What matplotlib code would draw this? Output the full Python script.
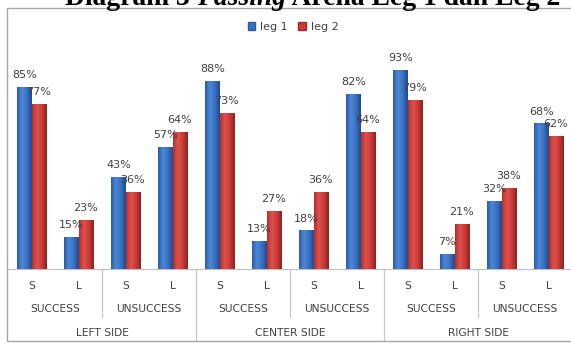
import numpy as np
import matplotlib
matplotlib.use("Agg")
import matplotlib.pyplot as plt
from matplotlib.patches import Patch, Rectangle
from matplotlib.colors import LinearSegmentedColormap
from matplotlib.transforms import blended_transform_factory

# data
level1 = ["S", "L"] * 6
level2 = ["SUCCESS", "UNSUCCESS"] * 3
level3 = ["LEFT SIDE", "CENTER SIDE", "RIGHT SIDE"]
leg1 = [85, 15, 43, 57, 88, 13, 18, 82, 93, 7, 32, 68]
leg2 = [77, 23, 36, 64, 73, 27, 36, 64, 79, 21, 38, 62]
series_names = ["leg 1", "leg 2"]
title_parts = [("Diagram 3 ", "normal"), ("Passing", "italic"), (" Arena Leg 1 dan Leg 2", "normal")]

W, H = 571, 351
fig = plt.figure(figsize=(W / 100, H / 100), dpi=100)
plt.rcParams["font.family"] = ["DejaVu Sans"]

# axes in pixel geometry (right edge runs past the picture)
ax = fig.add_axes([8 / W, 82 / H, 564 / W, 214 / H])
ax.set_xlim(-0.5, 11.5)
ax.set_ylim(0, 100)
for s in ["top", "right", "left"]:
    ax.spines[s].set_visible(False)
ax.spines["bottom"].set_color("#BFBFBF")
ax.set_xticks([])
ax.set_yticks([])

x = np.arange(len(leg1))
w = 0.3
blue_cm = LinearSegmentedColormap.from_list("b", ["#2B5CA3", "#4C88D8", "#3A70C0", "#1F4A8E"])
red_cm = LinearSegmentedColormap.from_list("r", ["#B3302D", "#E0514D", "#C93B37", "#8C2220"])
grad = np.linspace(0, 1, 64).reshape(1, -1)

bars1 = ax.bar(x - w / 2, leg1, w, color="#3A70C0", zorder=2)
bars2 = ax.bar(x + w / 2, leg2, w, color="#C93B37", zorder=2)

# shaded look on the bars
for bars, cm in [(bars1, blue_cm), (bars2, red_cm)]:
    for r in bars:
        x0, h = r.get_x(), r.get_height()
        im = ax.imshow(grad, extent=[x0, x0 + r.get_width(), 0, h], aspect="auto",
                       cmap=cm, zorder=3)
        im.set_clip_path(r)
ax.set_xlim(-0.5, 11.5)
ax.set_ylim(0, 100)

# value labels
for bars, vals in [(bars1, leg1), (bars2, leg2)]:
    for r, v in zip(bars, vals):
        ax.annotate(f"{v}%", (r.get_x() + r.get_width() / 2, v), xytext=(0, 5),
                    textcoords="offset points", ha="center", va="bottom",
                    fontsize=8, color="#404040", zorder=5, annotation_clip=False)

# multi-level category axis
tr = blended_transform_factory(ax.transData, fig.transFigure)
lab_kw = dict(transform=tr, ha="center", va="center", fontsize=7.7, color="#404040")
for i, lab in enumerate(level1):
    fig.text(i, 1 - 286 / H, lab, **lab_kw)
for i, lab in enumerate(level2):
    fig.text(2 * i + 0.5, 1 - 309 / H, lab, **lab_kw)
for i, lab in enumerate(level3):
    fig.text(4 * i + 1.5, 1 - 333 / H, lab, **lab_kw)

for xb in [1.5, 5.5, 9.5]:
    ax.plot([xb, xb], [1 - 269 / H, 1 - 317 / H], transform=tr, color="#C8C8C8",
            lw=0.9, clip_on=False)
for xb in [3.5, 7.5]:
    ax.plot([xb, xb], [1 - 269 / H, 1 - 340 / H], transform=tr, color="#C8C8C8",
            lw=0.9, clip_on=False)

# legend
handles = [Patch(facecolor="#3A70C0", edgecolor="#2B5CA3"),
           Patch(facecolor="#C93B37", edgecolor="#9E2A27")]
fig.legend(handles, series_names, loc="center", bbox_to_anchor=(293 / W, 1 - 27 / H),
           ncol=2, frameon=False, fontsize=8, handlelength=0.7, handleheight=0.7,
           handletextpad=0.4, columnspacing=1.0, labelcolor="#404040")

# chart frame
fig.add_artist(Rectangle((7 / W, 10 / H), 1.0, (341 - 8) / H, transform=fig.transFigure,
                         fill=False, ec="#A6A6A6", lw=1))

# title, cut off at top: size it to span ~65..562 px
renderer = fig.canvas.get_renderer()
ty = 1 - 5 / H


def draw_title(fs, x_start):
    xpos = x_start / W
    made = []
    for txt, style in title_parts:
        t = fig.text(xpos, ty, txt, fontsize=fs, fontweight="bold", fontstyle=style,
                     family="Liberation Serif", va="baseline", ha="left")
        made.append(t)
        xpos = t.get_window_extent(renderer).x1 / W
    return made, xpos * W - x_start


tmp, width10 = draw_title(10, 65)
for t in tmp:
    t.remove()
draw_title(10 * (562 - 65) / width10, 65)

fig.savefig("out.png", dpi=100)
